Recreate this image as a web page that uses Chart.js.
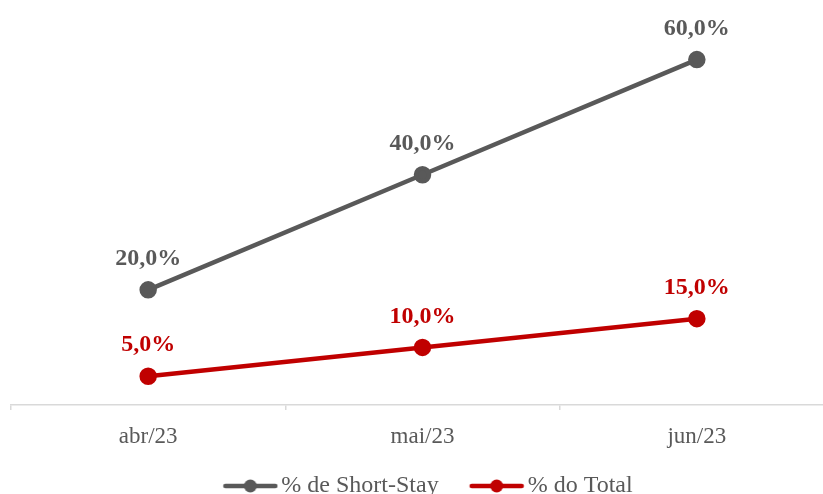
<!DOCTYPE html>
<html lang="pt">
<head>
    <meta charset="UTF-8">
    <title>Short-Stay</title>
    <script src="https://cdn.jsdelivr.net/npm/chart.js"></script>
    <style>
        * { margin: 0; padding: 0; box-sizing: border-box; }
        html, body { background: #fff; overflow: hidden; width: 823px; height: 494px; }
        canvas { display: block; }
    </style>
</head>
<body>
    <canvas id="chart" width="834" height="508"></canvas>
    <script>
        const meses = ['abr/23', 'mai/23', 'jun/23'];
        const pctShortStay = [20, 40, 60];
        const pctTotal = [5, 10, 15];
        const serieNomes = ['% de Short-Stay', '% do Total'];
        const cores = ['#595959', '#C00000'];

        const fonte = "'Liberation Serif', 'Times New Roman', serif";

        // simbolo da legenda: linha com ponto no meio (encostado a direita)
        function simbolo(cor) {
            const c = document.createElement('canvas');
            c.width = 75; c.height = 14;
            const g = c.getContext('2d');
            g.strokeStyle = cor;
            g.lineWidth = 4.5;
            g.lineCap = 'round';
            g.beginPath();
            g.moveTo(22, 7); g.lineTo(72, 7);
            g.stroke();
            g.fillStyle = cor;
            g.beginPath();
            g.arc(47, 7, 6.5, 0, Math.PI * 2);
            g.fill();
            return c;
        }

        // rotulos de dados acima dos pontos
        const rotulos = {
            id: 'rotulos',
            afterDatasetsDraw(chart) {
                const ctx = chart.ctx;
                ctx.save();
                ctx.font = 'bold 24px ' + fonte;
                ctx.textAlign = 'center';
                ctx.textBaseline = 'middle';
                chart.data.datasets.forEach((ds, i) => {
                    const meta = chart.getDatasetMeta(i);
                    ctx.fillStyle = ds.borderColor;
                    meta.data.forEach((pt, j) => {
                        const txt = ds.data[j].toFixed(1).replace('.', ',') + '%';
                        ctx.fillText(txt, pt.x, pt.y - 31);
                    });
                });
                ctx.restore();
            }
        };

        new Chart(document.getElementById('chart'), {
            type: 'line',
            data: {
                labels: meses,
                datasets: [{
                    label: serieNomes[0],
                    data: pctShortStay,
                    borderColor: cores[0],
                    backgroundColor: cores[0],
                    borderWidth: 4.5,
                    pointRadius: 6.5,
                    pointHoverRadius: 6.5,
                    pointStyle: 'circle'
                }, {
                    label: serieNomes[1],
                    data: pctTotal,
                    borderColor: cores[1],
                    backgroundColor: cores[1],
                    borderWidth: 4.5,
                    pointRadius: 6.5,
                    pointHoverRadius: 6.5,
                    pointStyle: 'circle'
                }]
            },
            options: {
                responsive: false,
                animation: false,
                layout: { autoPadding: false, padding: { top: 2, left: 11, right: 0, bottom: 0 } },
                scales: {
                    x: {
                        offset: true,
                        afterFit(scale) { scale.height = 49; },
                        border: { display: true, color: '#D9D9D9', width: 1.5 },
                        grid: {
                            offset: true,
                            drawOnChartArea: false,
                            drawTicks: true,
                            tickLength: 5,
                            color: '#D9D9D9',
                            lineWidth: 1.5
                        },
                        ticks: {
                            color: '#595959',
                            padding: 13,
                            font: { family: fonte, size: 23 }
                        }
                    },
                    y: {
                        display: false,
                        min: 0,
                        max: 70
                    }
                },
                plugins: {
                    tooltip: { enabled: false },
                    legend: {
                        position: 'bottom',
                        labels: {
                            color: '#595959',
                            font: { family: fonte, size: 24 },
                            usePointStyle: true,
                            pointStyleWidth: 57,
                            padding: 20,
                            generateLabels(chart) {
                                return chart.data.datasets.map((ds, i) => ({
                                    text: ds.label,
                                    pointStyle: simbolo(ds.borderColor),
                                    fillStyle: ds.borderColor,
                                    strokeStyle: ds.borderColor,
                                    fontColor: '#595959',
                                    lineWidth: 0,
                                    hidden: false,
                                    datasetIndex: i
                                }));
                            }
                        }
                    }
                }
            },
            plugins: [rotulos]
        });
    </script>
</body>
</html>
